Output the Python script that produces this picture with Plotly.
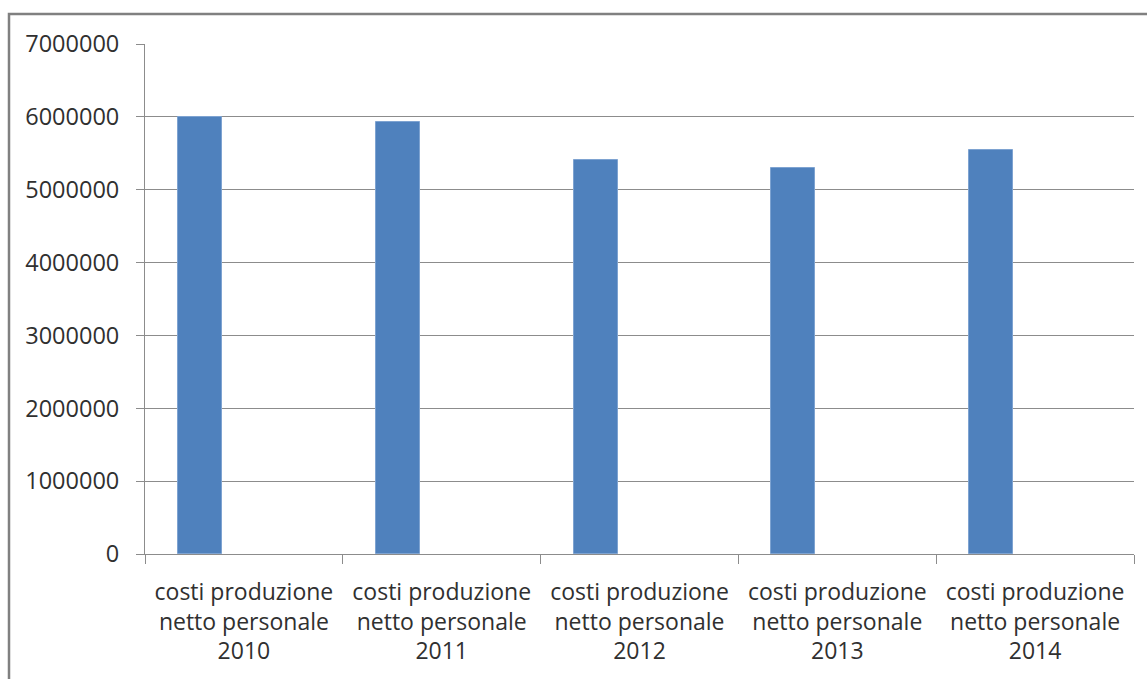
import plotly.graph_objects as go

categories = [
    "costi produzione<br>netto personale<br>2010",
    "costi produzione<br>netto personale<br>2011",
    "costi produzione<br>netto personale<br>2012",
    "costi produzione<br>netto personale<br>2013",
    "costi produzione<br>netto personale<br>2014",
]
values = [5995000, 5930000, 5405000, 5295000, 5545000]
y_ticks = [0, 1000000, 2000000, 3000000, 4000000, 5000000, 6000000, 7000000]
y_ticklabels = [str(v) for v in y_ticks]

W, H = 1147, 679
L, R, T, B = 145, 13, 44, 125
pw, ph = W - L - R, H - T - B
grid_col = "#8c8c8c"
text_col = "#303030"
font_family = "Open Sans"


def px_x(x):
    return (x - L) / pw


def px_y(y):
    return (H - B - y) / ph


fig = go.Figure()
fig.add_trace(go.Bar(
    x=categories, y=values,
    width=0.222, offset=-0.333,
    marker=dict(color="#4f81bd", line=dict(color="#7ea3d1", width=1)),
    showlegend=False,
))

fig.update_layout(
    width=W, height=H,
    margin=dict(l=L, r=R, t=T, b=B),
    paper_bgcolor="white", plot_bgcolor="white",
    font=dict(family=font_family, size=23, color=text_col),
    bargap=0,
    xaxis=dict(
        type="category",
        tickson="boundaries",
        ticks="outside", ticklen=9, tickcolor=grid_col, tickwidth=1,
        showline=True, linecolor=grid_col, linewidth=1,
        showgrid=False,
        range=[-0.5, 4.5],
        ticklabelstandoff=17,
        tickfont=dict(family=font_family, size=23, color=text_col),
    ),
    yaxis=dict(
        range=[0, 7000000],
        tickvals=y_ticks, ticktext=y_ticklabels,
        ticks="outside", ticklen=8, tickcolor=grid_col, tickwidth=1,
        showline=True, linecolor=grid_col, linewidth=1,
        showgrid=True, gridcolor=grid_col, gridwidth=1,
        zeroline=False,
        ticklabelstandoff=12,
        tickfont=dict(family=font_family, size=23.5, color=text_col),
    ),
    shapes=[dict(
        type="rect", xref="paper", yref="paper",
        x0=px_x(9), x1=px_x(W + 30),
        y0=px_y(H + 30), y1=px_y(14),
        line=dict(color="#808080", width=2.5), layer="below",
    )],
)

fig.write_html("out.html")
